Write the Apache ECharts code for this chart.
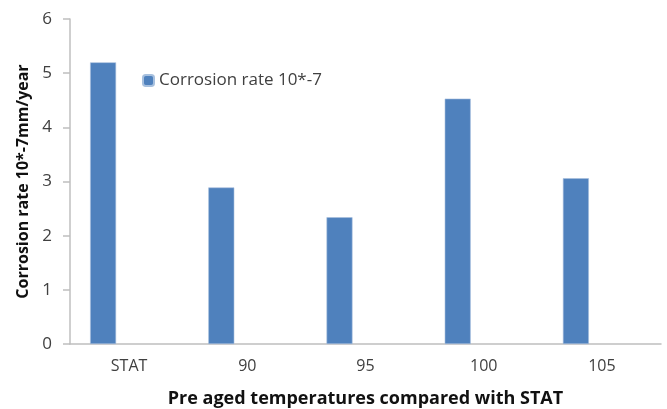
<!DOCTYPE html>
<html><head><meta charset="utf-8">
<script src="https://cdn.jsdelivr.net/npm/echarts@6/dist/echarts.min.js"></script>
<style>html,body{margin:0;padding:0;background:#fff}#c{width:667px;height:409px}</style>
</head><body><div id="c"></div>
<script>
var categories = ['STAT', '90', '95', '100', '105'];
var corrosionRate = [5.2, 2.89, 2.34, 4.53, 3.06];
var seriesName = 'Corrosion rate 10*-7';
var yTitle = 'Corrosion rate 10*-7mm/year';
var xTitle = 'Pre aged temperatures compared with STAT';
var font = 'Open Sans';
var chart = echarts.init(document.getElementById('c'));
chart.setOption({
  animation: false,
  grid: {left: 70, top: 19, right: 6, bottom: 65, containLabel: false, outerBoundsMode: 'none'},
  legend: {
    data: [seriesName], left: 137, top: 67, itemWidth: 11, itemHeight: 11, itemGap: 5,
    textStyle: {fontFamily: font, fontSize: 17, color: '#404040'}
  },
  xAxis: {
    type: 'category', data: categories,
    axisLine: {lineStyle: {color: '#bfbfbf', width: 1.5}},
    axisTick: {show: false},
    axisLabel: {fontFamily: font, fontSize: 16, color: '#404040', margin: 14},
    name: xTitle, nameLocation: 'middle', nameGap: 46,
    nameTextStyle: {fontFamily: font, fontSize: 18, fontWeight: 'bold', color: '#111'}
  },
  yAxis: {
    type: 'value', min: 0, max: 6, interval: 1,
    axisLine: {show: true, lineStyle: {color: '#bfbfbf', width: 1.5}},
    axisTick: {show: true, length: 7, lineStyle: {color: '#bfbfbf', width: 1.5}},
    splitLine: {show: false},
    axisLabel: {fontFamily: font, fontSize: 17, color: '#404040', margin: 18},
    name: yTitle, nameLocation: 'middle', nameGap: 35,
    nameTextStyle: {fontFamily: font, fontSize: 16, fontWeight: 'bold', color: '#111'}
  },
  series: [
    {name: seriesName, type: 'bar', data: corrosionRate, barWidth: 26, barGap: '100%',
     itemStyle: {color: '#4f81bd', borderColor: '#a7c0de', borderWidth: 0.6}},
    {name: 'empty', type: 'bar', data: [], barWidth: 26}
  ]
});
</script></body></html>
